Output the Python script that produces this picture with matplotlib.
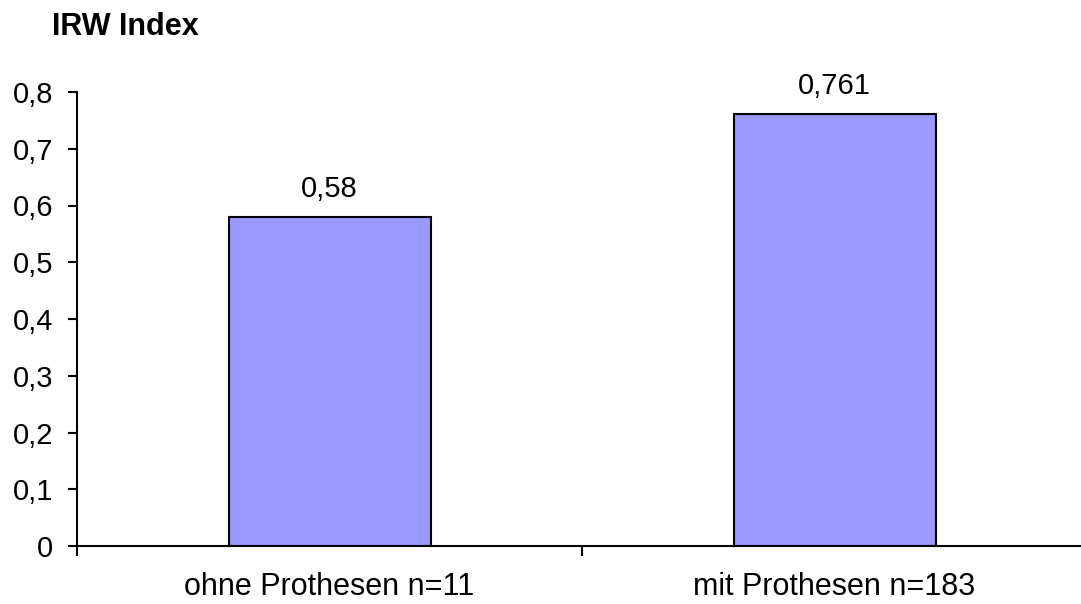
import matplotlib
matplotlib.use("Agg")
import matplotlib.pyplot as plt
import numpy as np

categories = ["ohne Prothesen n=11", "mit Prothesen n=183"]
values = [0.58, 0.761]
value_labels = ["0,58", "0,761"]
yticks = [0, 0.1, 0.2, 0.3, 0.4, 0.5, 0.6, 0.7, 0.8]
ytick_labels = ["0", "0,1", "0,2", "0,3", "0,4", "0,5", "0,6", "0,7", "0,8"]

plt.rcParams['font.family'] = ['Liberation Sans', 'DejaVu Sans']

fig = plt.figure(figsize=(10.81, 6.04), dpi=100)
ax = fig.add_axes([77 / 1081, 58 / 604, 1010 / 1081, 454 / 604])

x = np.arange(len(categories))
ax.bar(x, values, width=0.4, color='#9999FF', edgecolor='black', linewidth=1.5)

# value labels above the bars
for xi, v, lab in zip(x, values, value_labels):
    ax.annotate(lab, (xi, v), xytext=(0, 14.4), textcoords='offset points',
                ha='center', va='baseline', fontsize=21)

ax.set_xlim(-0.5, 1.5)
ax.set_ylim(0, 0.8)
ax.set_yticks(yticks)
ax.set_yticklabels(ytick_labels, fontsize=21)
ax.set_xticks(x)
ax.set_xticklabels(categories, fontsize=22)
ax.set_xticks([-0.5, 0.5, 1.5], minor=True)
ax.tick_params(axis='x', which='major', length=0, pad=19)
ax.tick_params(axis='x', which='minor', length=7, width=1.5, direction='out')
ax.tick_params(axis='y', length=6.5, width=1.5, direction='out', pad=10.5)

for s in ['top', 'right']:
    ax.spines[s].set_visible(False)
for s in ['left', 'bottom']:
    ax.spines[s].set_linewidth(1.5)

fig.text(52 / 1081, 1 - 35 / 604, "IRW Index", fontsize=22, fontweight='bold',
         ha='left', va='baseline')

fig.savefig("out.png", dpi=100)
